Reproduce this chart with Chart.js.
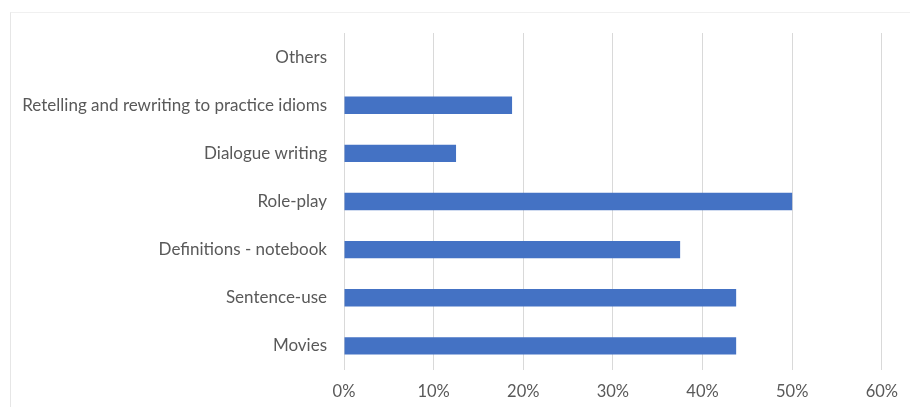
<!DOCTYPE html>
<html>
<head>
<meta charset="utf-8">
<script src="https://cdn.jsdelivr.net/npm/chart.js@4"></script>
<style>
  html, body { margin: 0; padding: 0; background: #fff; overflow: hidden; }
  #frame {
    position: absolute; left: 10px; top: 12px; width: 940px; height: 440px;
    border-left: 1px solid #e6e6e6; border-top: 1px solid #f0f0f0;
  }
  #wrap { position: absolute; left: 0; top: 0; width: 910px; height: 407px; }
</style>
</head>
<body>
<div id="frame"></div>
<div id="wrap"><canvas id="chart" width="910" height="407"></canvas></div>
<script>
// categories listed top to bottom
const categories = [
  'Others',
  'Retelling and rewriting to practice idioms',
  'Dialogue writing',
  'Role-play',
  'Definitions - notebook',
  'Sentence-use',
  'Movies'
];
// share of respondents, in percent
const shares = [0, 18.75, 12.5, 50, 37.5, 43.75, 43.75];
const axisMax = 60;
const axisStep = 10;

const labelColor = '#595959';
const fontFamily = 'Lato, "Open Sans", sans-serif';

const ctx = document.getElementById('chart').getContext('2d');
const chart = new Chart(ctx, {
  type: 'bar',
  data: {
    labels: categories,
    datasets: [{
      data: shares,
      backgroundColor: '#4472c4',
      borderWidth: 0,
      categoryPercentage: 1,
      barPercentage: 0.36
    }]
  },
  options: {
    indexAxis: 'y',
    responsive: false,
    animation: false,
    layout: { padding: { top: 33, right: 28, left: 0, bottom: 0 } },
    plugins: {
      legend: { display: false },
      tooltip: { enabled: false }
    },
    scales: {
      x: {
        min: 0,
        max: axisMax,
        ticks: {
          stepSize: axisStep,
          color: labelColor,
          font: { family: fontFamily, size: 16.5 },
          padding: 12,
          callback: v => v + '%'
        },
        grid: { color: '#d9d9d9', lineWidth: 1, drawTicks: false },
        border: { display: false },
        afterFit: scale => { scale.height = 37; }
      },
      y: {
        ticks: {
          color: labelColor,
          font: { family: fontFamily, size: 17 },
          padding: 17
        },
        grid: { display: false, drawTicks: false },
        border: { display: false },
        afterFit: scale => { scale.width = 344; }
      }
    }
  }
});
</script>
</body>
</html>
